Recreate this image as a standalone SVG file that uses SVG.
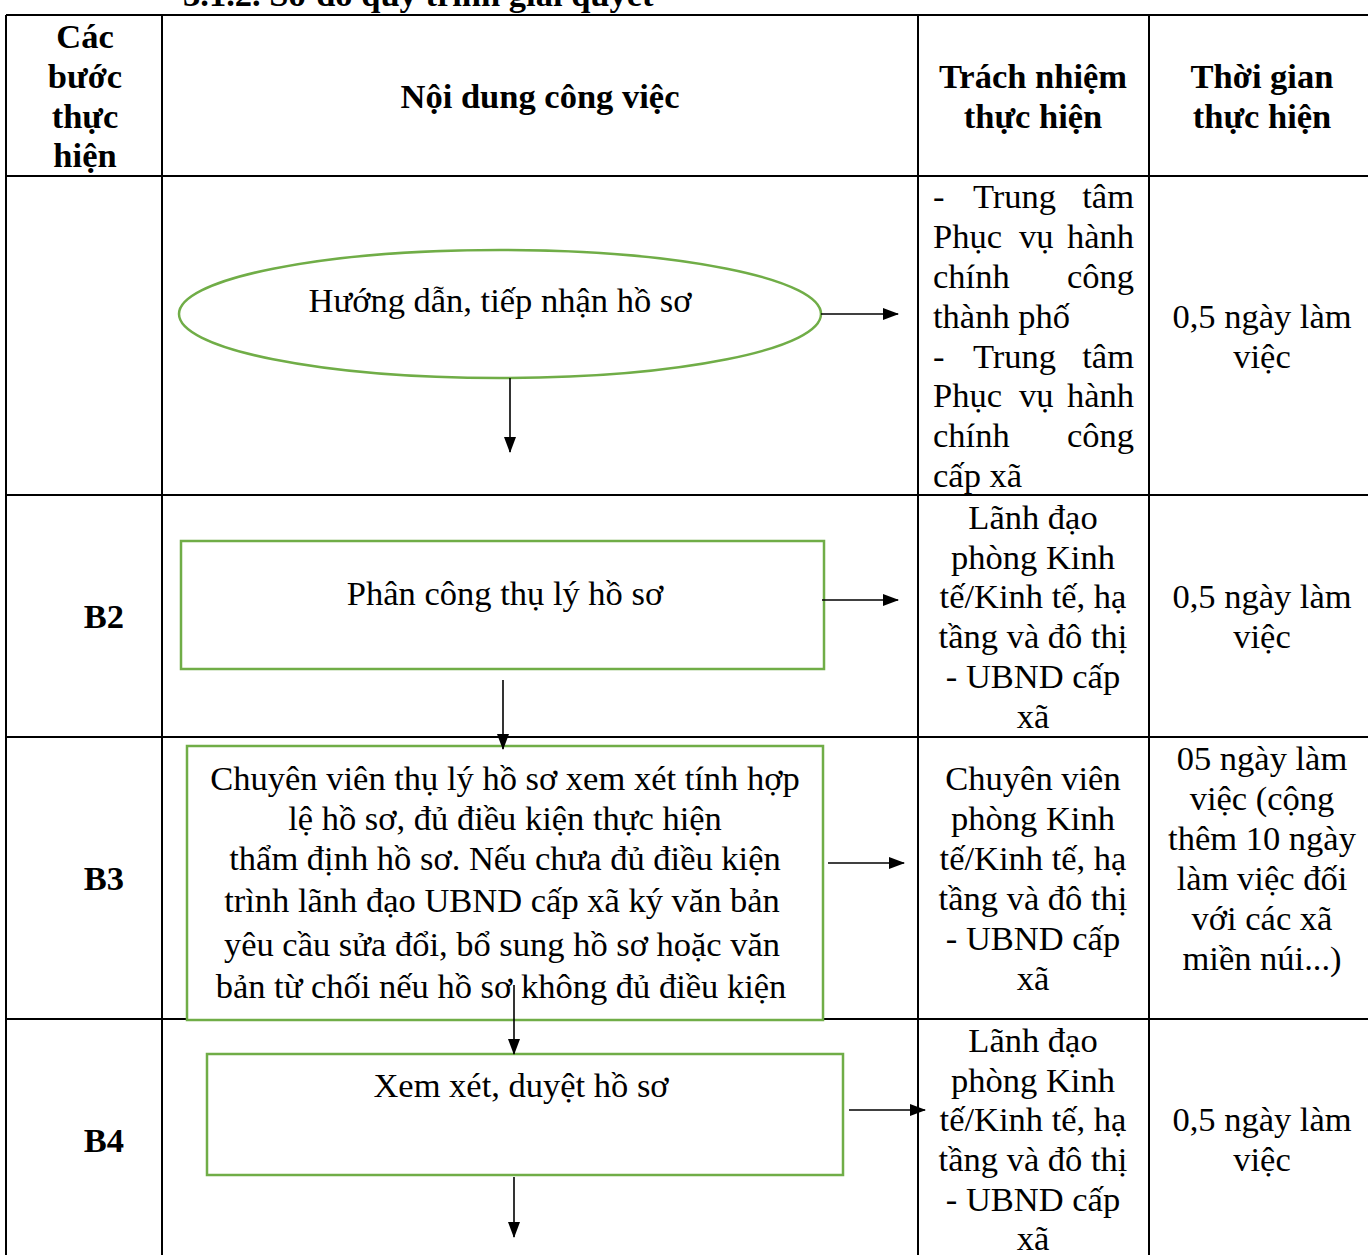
<svg xmlns="http://www.w3.org/2000/svg" width="1368" height="1255" viewBox="0 0 1368 1255">
<style>
text{font-family:"Liberation Serif","Times New Roman",serif;font-size:34.5px;fill:#000}
.b{font-weight:bold}
.c{text-anchor:middle}
.e{text-anchor:end}
.grid{stroke:#000;stroke-width:2;fill:none}
.node{fill:#fff;stroke:#70AD47;stroke-width:2.5}
.con{stroke:#000;stroke-width:1.6;fill:none;marker-end:url(#ah)}
</style>
<defs>
<marker id="ah" markerWidth="16" markerHeight="12" refX="15" refY="6" orient="auto" markerUnits="userSpaceOnUse" viewBox="0 0 16 12">
<path d="M0,0 L16,6 L0,12 z" fill="#000"/>
</marker>
</defs>
<rect width="1368" height="1255" fill="#fff"/>
<text class="b" x="183" y="6">3.1.2. Sơ đồ quy trình giải quyết</text>
<g id="table">
<path class="grid" d="M6,15 H1368 M6,176 H1368 M6,495 H1368 M6,737 H1368 M6,1019 H1368 M6,15 V1255 M162,15 V1255 M918,15 V1255 M1149,15 V1255"/>
</g>
<g id="header">
<text class="b c" x="85" y="48">Các</text>
<text class="b c" x="85" y="88">bước</text>
<text class="b c" x="85" y="128">thực</text>
<text class="b c" x="85" y="167">hiện</text>
<text class="b c" x="540" y="108">Nội dung công việc</text>
<text class="b c" x="1033" y="88">Trách nhiệm</text>
<text class="b c" x="1033" y="128">thực hiện</text>
<text class="b c" x="1262" y="88">Thời gian</text>
<text class="b c" x="1262" y="128">thực hiện</text>
</g>
<g id="n1">
<ellipse class="node" cx="500" cy="314" rx="321" ry="64"/>
<text class="c" x="500" y="312">Hướng dẫn, tiếp nhận hồ sơ</text>
</g>
<g id="r1">
<text x="933" y="208">-</text><text x="973" y="208">Trung</text><text class="e" x="1134" y="208">tâm</text>
<text x="933" y="248">Phục</text><text x="1019" y="248">vụ</text><text class="e" x="1134" y="248">hành</text>
<text x="933" y="288">chính</text><text class="e" x="1134" y="288">công</text>
<text x="933" y="328">thành phố</text>
<text x="933" y="368">-</text><text x="973" y="368">Trung</text><text class="e" x="1134" y="368">tâm</text>
<text x="933" y="407">Phục</text><text x="1019" y="407">vụ</text><text class="e" x="1134" y="407">hành</text>
<text x="933" y="447">chính</text><text class="e" x="1134" y="447">công</text>
<text x="933" y="487">cấp xã</text>
<text class="c" x="1262" y="328">0,5 ngày làm</text>
<text class="c" x="1262" y="368">việc</text>
</g>
<g id="n2">
<rect class="node" x="181" y="541" width="643" height="128"/>
<text class="c" x="505" y="605">Phân công thụ lý hồ sơ</text>
</g>
<g id="r2">
<text class="b c" x="104" y="628">B2</text>
<text class="c" x="1033" y="529">Lãnh đạo</text>
<text class="c" x="1033" y="569">phòng Kinh</text>
<text class="c" x="1033" y="608">tế/Kinh tế, hạ</text>
<text class="c" x="1033" y="648">tầng và đô thị</text>
<text class="c" x="1033" y="688">- UBND cấp</text>
<text class="c" x="1033" y="728">xã</text>
<text class="c" x="1262" y="608">0,5 ngày làm</text>
<text class="c" x="1262" y="648">việc</text>
</g>
<g id="n3">
<rect class="node" x="187" y="746" width="636" height="274"/>
<text class="c" x="505" y="790">Chuyên viên thụ lý hồ sơ xem xét tính hợp</text>
<text class="c" x="505" y="830">lệ hồ sơ, đủ điều kiện thực hiện</text>
<text class="c" x="505" y="870">thẩm định hồ sơ. Nếu chưa đủ điều kiện</text>
<text class="c" x="502" y="912">trình lãnh đạo UBND cấp xã ký văn bản</text>
<text class="c" x="502" y="956">yêu cầu sửa đổi, bổ sung hồ sơ hoặc văn</text>
<text class="c" x="501" y="998">bản từ chối nếu hồ sơ không đủ điều kiện</text>
</g>
<g id="r3">
<text class="b c" x="104" y="890">B3</text>
<text class="c" x="1033" y="790">Chuyên viên</text>
<text class="c" x="1033" y="830">phòng Kinh</text>
<text class="c" x="1033" y="870">tế/Kinh tế, hạ</text>
<text class="c" x="1033" y="910">tầng và đô thị</text>
<text class="c" x="1033" y="950">- UBND cấp</text>
<text class="c" x="1033" y="990">xã</text>
<text class="c" x="1262" y="770">05 ngày làm</text>
<text class="c" x="1262" y="810">việc (cộng</text>
<text class="c" x="1262" y="850">thêm 10 ngày</text>
<text class="c" x="1262" y="890">làm việc đối</text>
<text class="c" x="1262" y="930">với các xã</text>
<text class="c" x="1262" y="970">miền núi...)</text>
</g>
<g id="n4">
<rect class="node" x="207" y="1054" width="636" height="121"/>
<text class="c" x="521" y="1097">Xem xét, duyệt hồ sơ</text>
</g>
<g id="r4">
<text class="b c" x="104" y="1152">B4</text>
<text class="c" x="1033" y="1052">Lãnh đạo</text>
<text class="c" x="1033" y="1092">phòng Kinh</text>
<text class="c" x="1033" y="1131">tế/Kinh tế, hạ</text>
<text class="c" x="1033" y="1171">tầng và đô thị</text>
<text class="c" x="1033" y="1211">- UBND cấp</text>
<text class="c" x="1033" y="1250">xã</text>
<text class="c" x="1262" y="1131">0,5 ngày làm</text>
<text class="c" x="1262" y="1171">việc</text>
</g>
<g id="connectors">
<path class="con" d="M821,314 H898"/>
<path class="con" d="M510,378 V452"/>
<path class="con" d="M822,600 H898"/>
<path class="con" d="M503,680 V749"/>
<path class="con" d="M828,863 H904"/>
<path class="con" d="M514,985 V1054"/>
<path class="con" d="M849,1110 H925"/>
<path class="con" d="M514,1177 V1237"/>
</g>
</svg>
